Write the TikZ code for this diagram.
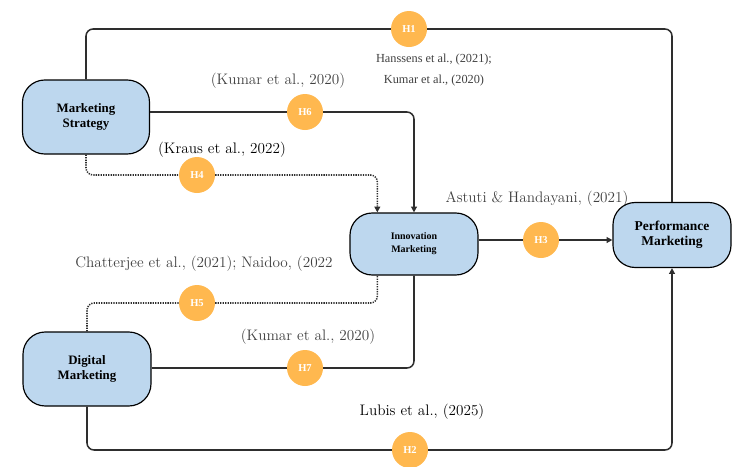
\documentclass[tikz,border=0pt]{standalone}
\usepackage{fontspec}
\newfontfamily\boxfont{Liberation Serif}
\usetikzlibrary{arrows.meta}
\definecolor{boxblue}{HTML}{BDD7EE}
\definecolor{hypoorange}{HTML}{FFB84F}
\definecolor{linegray}{HTML}{2E2E2E}
\definecolor{citegray}{HTML}{404040}

\tikzset{
  construct/.style={draw=black, line width=1pt, fill=boxblue, rounded corners=19pt, align=center},
  hypo/.style={circle, fill=hypoorange, minimum size=1.08cm, inner sep=0pt, text=white, font=\boxfont\bfseries\small},
  link/.style={draw=linegray, line width=1.3pt, rounded corners=6pt},
  dlink/.style={draw=linegray, line width=1.3pt, rounded corners=6pt, dash pattern=on 1.1pt off 1pt},
  cite/.style={text=citegray, font=\fontsize{13}{15}\selectfont},
}

\begin{document}
\begin{tikzpicture}[x=0.03cm, y=-0.03cm, >={Triangle[length=5pt,width=5pt]}]
\useasboundingbox (0,0) rectangle (732,466);

% Konstrukte
\node[construct, minimum width=3.81cm, minimum height=2.22cm, font=\boxfont\bfseries\fontsize{11}{12.5}\selectfont] (ms) at (86,117) {Marketing\\Strategy};
\node[construct, minimum width=3.84cm, minimum height=2.22cm, font=\boxfont\bfseries\fontsize{11}{12.5}\selectfont] (dm) at (87,369) {Digital\\Marketing};
\node[construct, minimum width=3.84cm, minimum height=1.86cm, font=\boxfont\bfseries\fontsize{8.5}{11}\selectfont] (im) at (414,244) {Innovation\\Marketing};
\node[construct, minimum width=3.54cm, minimum height=1.95cm, font=\boxfont\bfseries\fontsize{11.5}{13}\selectfont] (pm) at (672,235) {Performance\\Marketing};

% Hipotesis
\node[hypo] (h1) at (409,29) {H1};
\node[hypo] (h2) at (410,450) {H2};
\node[hypo] (h3) at (541,240) {H3};
\node[hypo] (h4) at (197,175) {H4};
\node[hypo] (h5) at (197,303) {H5};
\node[hypo] (h6) at (305,112) {H6};
\node[hypo] (h7) at (305,368) {H7};

% Titik masuk garis putus-putus
\coordinate (im4) at ([xshift=-1.1cm]im.north);
\coordinate (im5) at ([xshift=-1.1cm]im.south);

% Garis hubungan
\draw[link] (ms.north) |- (h1);
\draw[link] (h1) -| (pm.north);
\draw[link] (ms.east |- h6) -- (h6);
\draw[link, ->] (h6) -| (im.north);
\draw[dlink] (ms.south) |- (h4);
\draw[dlink, ->] (h4) -| (im4);
\draw[dlink] (dm.north) |- (h5);
\draw[dlink] (h5) -| (im5);
\draw[link] (dm.east |- h7) -- (h7);
\draw[link] (h7) -| (im.south);
\draw[link] (im.east |- h3) -- (h3);
\draw[link, ->] (h3) -- (pm.west |- h3);
\draw[link] (dm.south) |- (h2);
\draw[link, ->] (h2) -| (pm.south);

% Rujukan
\node[text=citegray, align=center, font=\boxfont\fontsize{10.5}{18}\selectfont] (c1) at (434,70) {Hanssens et al., (2021);\\Kumar et al., (2020)};
\node[cite] (c6) at (278,81) {(Kumar et al., 2020)};
\node[cite, text=black] (c4) at (222,150) {(Kraus et al., 2022)};
\node[cite] (c3) at (537,199) {Astuti \& Handayani, (2021)};
\node[cite] (c5) at (204,264) {Chatterjee et al., (2021); Naidoo, (2022};
\node[cite] (c7) at (308,337) {(Kumar et al., 2020)};
\node[cite, text=black] (c2) at (422,412) {Lubis et al., (2025)};

\end{tikzpicture}
\end{document}
